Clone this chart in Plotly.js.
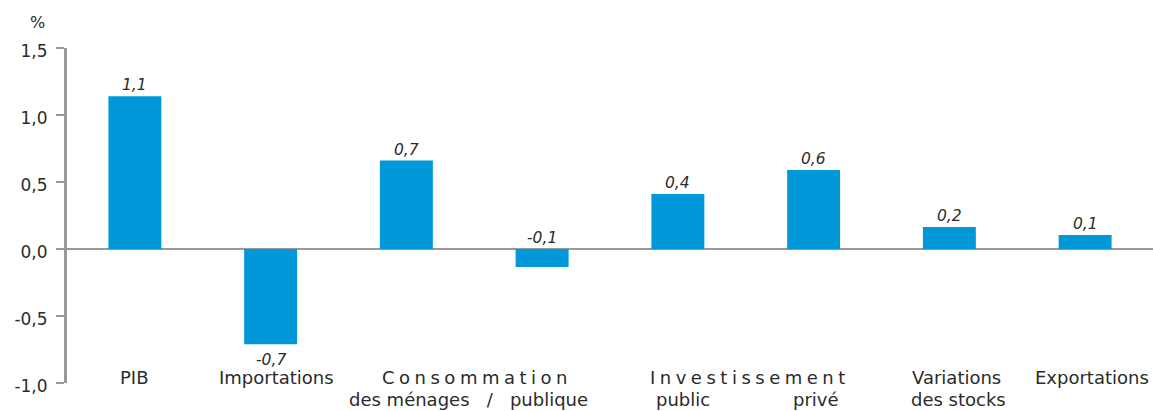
<!DOCTYPE html>
<html>
<head>
<meta charset="utf-8">
<script src="https://cdn.plot.ly/plotly-3.0.1.min.js"></script>
<style>html,body{margin:0;padding:0;background:#fff;}</style>
</head>
<body>
<div id="chart" style="width:1153px;height:411px;"></div>
<script>
const categories = ["PIB", "Importations", "Consommation des ménages", "Consommation publique",
  "Investissement public", "Investissement privé", "Variations des stocks", "Exportations"];
const values = [1.14, -0.71, 0.66, -0.135, 0.41, 0.59, 0.165, 0.105];
const valueLabels = ["1,1", "-0,7", "0,7", "-0,1", "0,4", "0,6", "0,2", "0,1"];
const yTickVals = [-1.0, -0.5, 0.0, 0.5, 1.0, 1.5];
const yTickText = ["-1,0", "-0,5", "0,0", "0,5", "1,0", "1,5"];
// axis labels: [text, x position (category index), line, letter-spaced]
const axisLabels = [
  ["PIB", 0, 1],
  ["Importations", 1.04, 1],
  ["Consommation", 2.5, 1, true],
  ["des ménages\u00a0\u00a0\u00a0/\u00a0\u00a0\u00a0publique", 2.46, 2],
  ["Investissement", 4.51, 1, true],
  ["public", 4.04, 2],
  ["privé", 5.02, 2],
  ["Variations", 6.05, 1],
  ["des stocks", 6.07, 2],
  ["Exportations", 7.05, 1]
];

const FONT = "DejaVu Sans, Arial, sans-serif";
const textColor = "#2b2b2b";
const spaced = s => s.split("").join("\u2005");
const xIdx = categories.map((c, i) => i);
const annotations = [];
values.forEach((v, i) => {
  if (v < -0.3) {
    annotations.push({x: i, y: v, xref: "x", yref: "y", text: valueLabels[i], showarrow: false,
      yanchor: "top", yshift: -5, font: {family: FONT, size: 15.5, color: textColor, style: "italic"}});
  } else {
    annotations.push({x: i, y: Math.max(v, 0), xref: "x", yref: "y", text: valueLabels[i], showarrow: false,
      yanchor: "bottom", yshift: 0, font: {family: FONT, size: 15.5, color: textColor, style: "italic"}});
  }
});
axisLabels.forEach(a => {
  annotations.push({x: a[1], y: -1.0, xref: "x", yref: "y", text: a[3] ? spaced(a[0]) : a[0], showarrow: false,
    yanchor: "middle", yshift: a[2] === 1 ? 6 : -16,
    font: {family: FONT, size: 18, color: textColor}});
});
annotations.push({x: -0.027, y: 1.5, xref: "paper", yref: "y", text: "%", showarrow: false,
  xanchor: "center", yanchor: "bottom", yshift: 14, font: {family: FONT, size: 16, color: textColor}});

const trace = {
  type: "bar",
  x: xIdx,
  y: values,
  width: 0.39,
  marker: {color: "#0098D8", line: {width: 0}},
  hoverinfo: "skip"
};

const layout = {
  width: 1153, height: 411,
  margin: {l: 67, r: 0, t: 48, b: 28},
  paper_bgcolor: "#ffffff", plot_bgcolor: "#ffffff",
  showlegend: false,
  separators: ", ",
  xaxis: {range: [-0.5, 7.5], showticklabels: false, showgrid: false, zeroline: false, showline: false, ticks: ""},
  yaxis: {range: [-1.0, 1.5], tickvals: yTickVals, ticktext: yTickText, showgrid: false,
    zeroline: true, zerolinecolor: "#999999", zerolinewidth: 2,
    showline: true, linecolor: "#999999", linewidth: 3,
    ticks: "outside", ticklen: 8, tickwidth: 2, tickcolor: "#999999",
    ticklabelstandoff: 5, ticklabelshift: 3,
    tickfont: {family: FONT, size: 17, color: textColor}},
  annotations: annotations
};

Plotly.newPlot("chart", [trace], layout, {displayModeBar: false, staticPlot: true});
</script>
</body>
</html>
